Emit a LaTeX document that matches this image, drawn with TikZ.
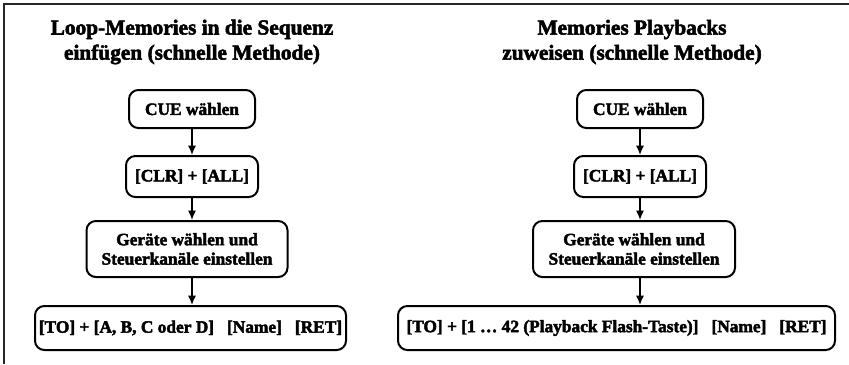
\documentclass[tikz,border=0pt]{standalone}
\usepackage{fontspec}
\setmainfont{Liberation Serif}[BoldFeatures={FakeBold=2.5}]
\usepackage{tikz}
\tikzset{>=latex}
\usetikzlibrary{arrows.meta}

\tikzset{
  stepbox/.style={draw=black, line width=1.5pt, rounded corners=7pt, fill=white,
    align=center, inner sep=2pt, font=\fontsize{13}{14.5}\selectfont\bfseries},
  headline/.style={align=center, font=\fontsize{16}{18.8}\selectfont\bfseries},
  flow/.style={->, line width=1.1pt, >={Latex[length=7pt,width=6pt]}}
}
\newcommand{\gap}{\hspace{0.75em}}

\begin{document}
\begin{tikzpicture}[x=0.75pt, y=-0.75pt]
 \useasboundingbox (0,0) rectangle (849,364);

 % Frame
 \coordinate (frameTL) at (4,4);
 \draw[line width=1.6pt, black!85] (849,4) -- (frameTL) -- (4,364);

 % Column left
 \node[headline] (titleL) at (192,42) {Loop-Memories in die Sequenz\\einfügen (schnelle Methode)};
 \node[stepbox, minimum width=126*0.75pt, minimum height=38*0.75pt] (cueL) at (192,109) {CUE wählen};
 \node[stepbox, minimum width=132*0.75pt, minimum height=41*0.75pt] (clrL) at (192,176.5) {[CLR] + [ALL]};
 \node[stepbox, minimum width=201*0.75pt, minimum height=56*0.75pt] (devL) at (187,249) {Geräte wählen und\\Steuerkanäle einstellen};
 \node[stepbox, minimum width=311*0.75pt, minimum height=44*0.75pt] (toL) at (190.5,328) {[TO] + [A, B, C oder D]\gap[Name]\gap[RET]};

 % Column right
 \node[headline] (titleR) at (632,42) {Memories Playbacks\\zuweisen (schnelle Methode)};
 \node[stepbox, minimum width=126*0.75pt, minimum height=38*0.75pt] (cueR) at (640,109) {CUE wählen};
 \node[stepbox, minimum width=132*0.75pt, minimum height=41*0.75pt] (clrR) at (640,176.5) {[CLR] + [ALL]};
 \node[stepbox, minimum width=202*0.75pt, minimum height=56*0.75pt] (devR) at (634,249) {Geräte wählen und\\Steuerkanäle einstellen};
 \node[stepbox, minimum width=437*0.75pt, minimum height=44*0.75pt] (toR) at (616.5,328) {[TO] + [1 … 42 (Playback Flash-Taste)]\gap[Name]\gap[RET]};

 % Arrows
 \foreach \s in {L, R}{
    \draw[flow] (cue\s.south) -- (clr\s.north);
    \draw[flow] (clr\s.south) -- (clr\s.south |- dev\s.north);
    \draw[flow] (clr\s.south |- dev\s.south) -- (clr\s.south |- to\s.north);
 }

\end{tikzpicture}
\end{document}
